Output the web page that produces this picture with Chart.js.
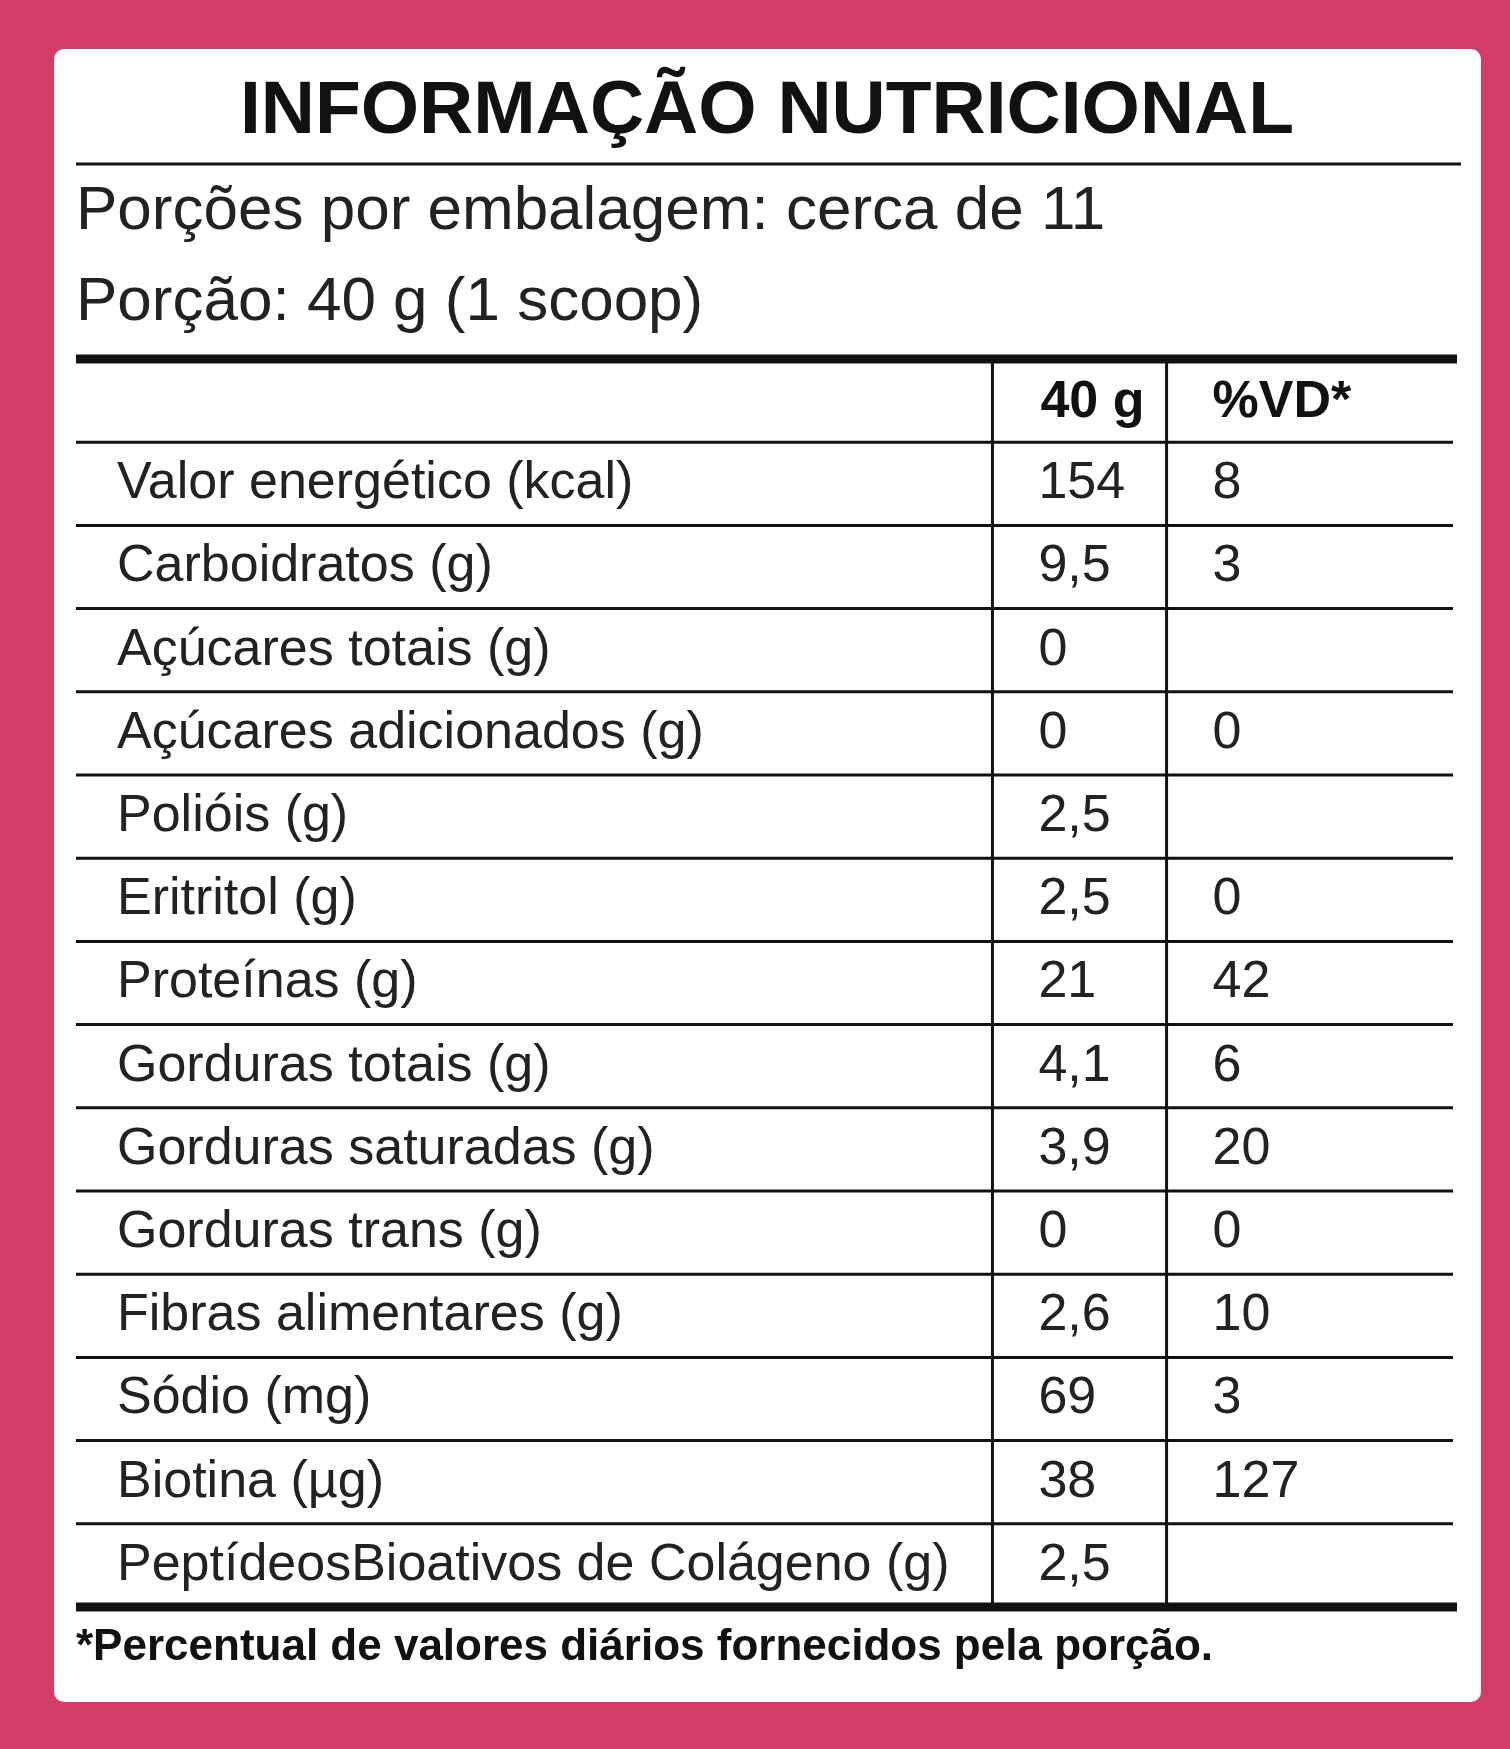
<!DOCTYPE html>
<html>
<head>
<meta charset="utf-8">
<style>
  html, body { margin: 0; padding: 0; background: #d23c66; }
  canvas { display: block; }
</style>
<script src="https://cdn.jsdelivr.net/npm/chart.js@4.4.0/dist/chart.umd.min.js"></script>
</head>
<body>
<canvas id="tabela" width="1510" height="1749"></canvas>
<script>
// Dados da tabela nutricional
const titulo = 'INFORMAÇÃO NUTRICIONAL';
const porcoes = 'Porções por embalagem: cerca de 11';
const porcao = 'Porção: 40 g (1 scoop)';
const cabecalho = ['', '40 g', '%VD*'];
const nutrientes = [
    'Valor energético (kcal)', 'Carboidratos (g)', 'Açúcares totais (g)',
    'Açúcares adicionados (g)', 'Polióis (g)', 'Eritritol (g)', 'Proteínas (g)',
    'Gorduras totais (g)', 'Gorduras saturadas (g)', 'Gorduras trans (g)',
    'Fibras alimentares (g)', 'Sódio (mg)', 'Biotina (µg)',
    'PeptídeosBioativos de Colágeno (g)'
];
const quantidades = ['154', '9,5', '0', '0', '2,5', '2,5', '21', '4,1', '3,9', '0', '2,6', '69', '38', '2,5'];
const valoresDiarios = ['8', '3', '', '0', '', '0', '42', '6', '20', '0', '10', '3', '127', ''];
const rodape = '*Percentual de valores diários fornecidos pela porção.';

const fonte = '"Liberation Sans", Arial, sans-serif';

// Plugin que desenha a tabela usando as escalas do gráfico
const tabelaPlugin = {
    id: 'tabela',
    beforeDraw(chart) {
        const ctx = chart.ctx;
        ctx.save();
        ctx.fillStyle = '#ffffff';
        ctx.beginPath();
        ctx.roundRect(54, 49, 1427, 1653, 10);
        ctx.fill();
        ctx.restore();
    },
    afterDraw(chart) {
        const ctx = chart.ctx;
        const y = chart.scales.y;
        const x = chart.scales.x;
        const area = chart.chartArea;
        const n = chart.data.labels.length;
        const meia = (y.getPixelForValue(1) - y.getPixelForValue(0)) / 2;
        const colA = x.getPixelForValue(949);
        const colB = x.getPixelForValue(1148);

        ctx.save();
        ctx.fillStyle = '#111';
        ctx.strokeStyle = '#111';

        // Título
        ctx.font = 'bold 75px ' + fonte;
        ctx.textAlign = 'center';
        ctx.textBaseline = 'middle';
        ctx.fillText(titulo, 767, 112);
        ctx.lineWidth = 3;
        ctx.beginPath(); ctx.moveTo(76, 164); ctx.lineTo(1461, 164); ctx.stroke();

        ctx.textAlign = 'left';
        ctx.font = '62px ' + fonte;
        ctx.fillStyle = '#222';
        ctx.fillText(porcoes, 76, 212);
        ctx.fillText(porcao, 76, 303);

        // Linhas horizontais
        for (let i = 1; i < n; i++) {
            const py = y.getPixelForValue(i) - meia;
            ctx.lineWidth = 3;
            ctx.beginPath(); ctx.moveTo(area.left, py); ctx.lineTo(area.right, py); ctx.stroke();
        }
        ctx.lineWidth = 9;
        ctx.beginPath(); ctx.moveTo(area.left, area.top); ctx.lineTo(area.right + 4, area.top); ctx.stroke();
        ctx.beginPath(); ctx.moveTo(area.left, area.bottom); ctx.lineTo(area.right + 4, area.bottom); ctx.stroke();

        // Colunas
        ctx.lineWidth = 3;
        [colA, colB].forEach(cx => {
            ctx.beginPath(); ctx.moveTo(cx, area.top); ctx.lineTo(cx, area.bottom); ctx.stroke();
        });

        // Cabeçalho
        ctx.fillStyle = '#111';
        ctx.font = 'bold 52px ' + fonte;
        const yc = y.getPixelForValue(0) + 2;
        ctx.fillText(cabecalho[1], colA + 48, yc);
        ctx.fillText(cabecalho[2], colB + 46, yc);

        // Linhas de dados
        ctx.font = '52px ' + fonte;
        ctx.fillStyle = '#222';
        nutrientes.forEach((nome, i) => {
            const py = y.getPixelForValue(i + 1);
            ctx.fillText(nome, 117, py);
            ctx.fillText(quantidades[i], colA + 46, py);
            ctx.fillText(valoresDiarios[i], colB + 46, py);
        });

        // Rodapé
        ctx.font = 'bold 44px ' + fonte;
        ctx.fillStyle = '#111';
        ctx.fillText(rodape, 76, 1648);
        ctx.restore();
    }
};

new Chart(document.getElementById('tabela'), {
    type: 'bar',
    data: {
        labels: [cabecalho[0]].concat(nutrientes),
        datasets: [{ data: [] }]
    },
    options: {
        responsive: false,
        devicePixelRatio: 1,
        animation: false,
        layout: { padding: { left: 76, right: 57, top: 359, bottom: 142 } },
        plugins: { legend: { display: false }, tooltip: { enabled: false } },
        scales: {
            x: { type: 'linear', min: 0, max: 1377, display: false },
            y: { type: 'category', offset: true, display: false }
        }
    },
    plugins: [tabelaPlugin]
});
</script>
</body>
</html>
